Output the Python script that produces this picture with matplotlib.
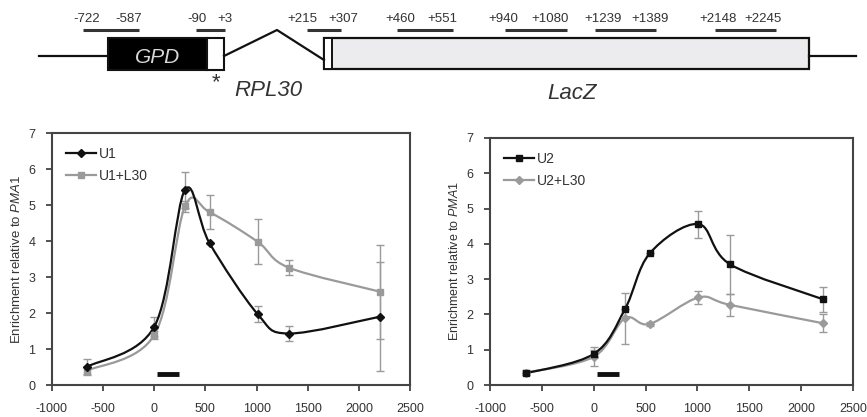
import matplotlib
matplotlib.use("Agg")
import matplotlib.pyplot as plt
import numpy as np
from matplotlib.path import Path
from matplotlib.patches import PathPatch, Rectangle
from matplotlib.lines import Line2D

plt.rcParams["font.family"] = ["Liberation Sans", "DejaVu Sans"]
plt.rcParams["mathtext.fontset"] = "custom"
plt.rcParams["mathtext.it"] = "Liberation Sans:italic"
plt.rcParams["mathtext.rm"] = "Liberation Sans"
plt.rcParams["axes.unicode_minus"] = False

# primer pair midpoints (bp from start)
positions = [-654, 0, 300, 540, 1010, 1315, 2210]

u1 = [0.51, 1.62, 5.42, 3.94, 1.97, 1.43, 1.90]
u1_err = [0.20, 0.27, 0.51, 0.0, 0.23, 0.20, 1.51]
u1_l30 = [0.40, 1.39, 4.96, 4.80, 3.98, 3.26, 2.59]
u1_l30_err = [0.12, 0.12, 0.15, 0.47, 0.63, 0.20, 1.31]

u2 = [0.33, 0.88, 2.14, 3.73, 4.56, 3.42, 2.43]
u2_err = [0.06, 0.10, 0.0, 0.0, 0.38, 0.84, 0.36]
u2_l30 = [0.35, 0.80, 1.89, 1.73, 2.48, 2.27, 1.75]
u2_l30_err = [0.08, 0.27, 0.72, 0.05, 0.18, 0.32, 0.25]

rpl30_span = [30, 240]
rpl30_level = 0.3

primer_labels = [("-722", "-587"), ("-90", "+3"), ("+215", "+307"),
                 ("+460", "+551"), ("+940", "+1080"), ("+1239", "+1389"),
                 ("+2148", "+2245")]

BLACK = "#111111"
GRAY = "#9a9a9a"
TEXT = "#333333"


def smooth_path(x, y, t=1 / 6):
    # Excel-like smoothed line as cubic bezier segments
    pts = np.column_stack([x, y]).astype(float)
    n = len(pts)
    verts = [pts[0]]
    codes = [Path.MOVETO]
    for i in range(n - 1):
        p0 = pts[max(i - 1, 0)]
        p1 = pts[i]
        p2 = pts[i + 1]
        p3 = pts[min(i + 2, n - 1)]
        verts += [p1 + (p2 - p0) * t, p2 - (p3 - p1) * t, p2]
        codes += [Path.CURVE4] * 3
    return Path(verts, codes)


def draw_series(ax, y, err, color, marker, ms, label):
    ax.errorbar(positions, y, yerr=err, fmt="none", ecolor=GRAY, elinewidth=1,
                capsize=3, capthick=1, zorder=2)
    ax.add_patch(PathPatch(smooth_path(positions, y), fill=False, edgecolor=color,
                           lw=1.6, zorder=3))
    ax.plot(positions, y, linestyle="none", marker=marker, ms=ms, color=color, zorder=4)
    return Line2D([], [], color=color, lw=1.6, marker=marker, ms=ms, label=label)


def style_axes(ax, ylabel_size):
    ax.set_xlim(-1000, 2500)
    ax.set_ylim(0, 7)
    ax.set_xticks(np.arange(-1000, 2501, 500))
    ax.set_yticks(np.arange(0, 8, 1))
    ax.tick_params(direction="out", length=4, width=1.2, labelsize=9,
                   colors=TEXT)
    ax.tick_params(axis="x", pad=9)
    ax.tick_params(axis="y", pad=8)
    for sp in ax.spines.values():
        sp.set_linewidth(1.5)
        sp.set_color("#444444")
    ax.set_ylabel(r"Enrichment relative to $\mathit{PMA1}$", fontsize=ylabel_size,
                  color=TEXT, labelpad=4)
    ax.plot(rpl30_span, [rpl30_level] * 2, color=BLACK, lw=3.5,
            solid_capstyle="butt", zorder=3)


def add_legend(ax, handles):
    ax.legend(handles=handles, loc="upper left", frameon=False, fontsize=10,
              handlelength=2.2, handletextpad=0.2, borderaxespad=0.6,
              labelspacing=0.55, labelcolor=TEXT)


fig = plt.figure(figsize=(8.67, 4.17), dpi=100)

# gene schematic, drawn in pixel space
top = fig.add_axes([0, 0, 1, 1], zorder=0)
top.set_xlim(0, 867)
top.set_ylim(417, 0)
top.axis("off")
top.plot([39, 108], [56, 56], color=BLACK, lw=1.6)
top.plot([809, 856], [56, 56], color=BLACK, lw=1.6)
top.add_patch(Rectangle((108, 38), 99, 32, facecolor="black", edgecolor=BLACK, lw=1.5))
top.add_patch(Rectangle((207, 38), 17, 32, facecolor="white", edgecolor=BLACK, lw=1.5))
top.plot([224, 277, 324], [56, 30, 60], color=BLACK, lw=1.6)
top.add_patch(Rectangle((324, 38), 485, 31, facecolor="#ececee", edgecolor=BLACK, lw=1.6))
top.add_patch(Rectangle((324, 38), 8, 31, facecolor="white", edgecolor=BLACK, lw=1.4))
top.text(158, 57, "GPD", color="#d8d8d8", fontsize=15, style="italic",
         ha="center", va="center")
top.text(216, 83, "*", color=TEXT, fontsize=16, ha="center", va="center")
top.text(268, 90, "RPL30", color=TEXT, fontsize=16, style="italic",
         ha="center", va="center")
top.text(572, 93, "LacZ", color=TEXT, fontsize=16, style="italic",
         ha="center", va="center")

bar_spans = [(83, 139), (196, 225), (307, 341), (397, 453), (505, 567),
             (595, 656), (715, 776)]
label_x = [(87, 129), (197, 225), (302, 343), (400, 442), (503, 550),
           (603, 650), (718, 763)]
for (a, b), (la, lb), (ta, tb) in zip(bar_spans, label_x, primer_labels):
    top.plot([a, b], [30, 30], color=TEXT, lw=2.2, solid_capstyle="butt")
    top.text(la, 19, ta, fontsize=9.5, color=TEXT, ha="center", va="center")
    top.text(lb, 19, tb, fontsize=9.5, color=TEXT, ha="center", va="center")

ax1 = fig.add_axes([52 / 867, 1 - 385 / 417, 358 / 867, 252 / 417], zorder=1)
h1 = draw_series(ax1, u1_l30, u1_l30_err, GRAY, "s", 4.5, "U1+L30")
h0 = draw_series(ax1, u1, u1_err, BLACK, "D", 4, "U1")
style_axes(ax1, 9.5)
add_legend(ax1, [h0, h1])

ax2 = fig.add_axes([490 / 867, 1 - 385 / 417, 363 / 867, 247 / 417], zorder=1)
h3 = draw_series(ax2, u2_l30, u2_l30_err, GRAY, "D", 4, "U2+L30")
h2 = draw_series(ax2, u2, u2_err, BLACK, "s", 5, "U2")
style_axes(ax2, 9)
add_legend(ax2, [h2, h3])

fig.savefig("out.png", dpi=100)
